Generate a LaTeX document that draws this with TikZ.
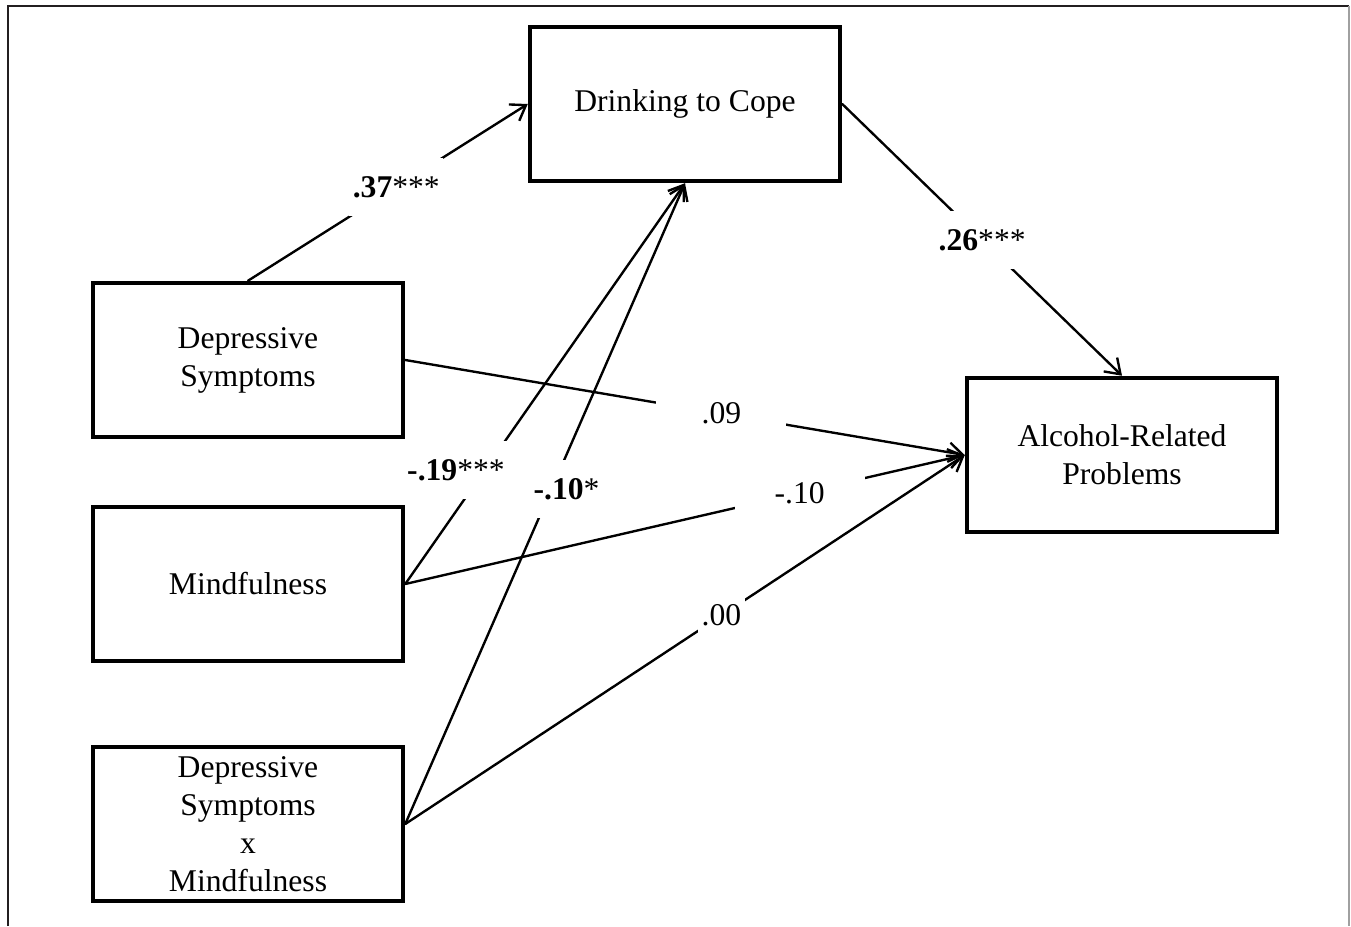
\documentclass[tikz,border=0pt]{standalone}
\usepackage{fontspec}
\setmainfont{Liberation Serif}
\usepackage{xcolor}
\usepackage{tikz}
\usetikzlibrary{arrows.meta}
\definecolor{ink}{HTML}{000000}
\definecolor{rim}{HTML}{231F20}
\definecolor{rimr}{HTML}{A0A0A0}
\tikzset{
  var/.style={draw=ink, line width=2.6pt, minimum width=6.2cm, minimum height=3.08cm,
    align=center, inner sep=0pt, font=\fontsize{18}{21.6}\selectfont},
  eff/.style={draw=ink, line width=1.35pt, line cap=round,
    -{Straight Barb[length=8pt,width=11pt,line width=1.35pt]}},
  coef/.style={fill=white, inner sep=2pt, minimum height=1.16cm,
    font=\fontsize{18}{21.6}\selectfont},
  coefw/.style={coef, minimum width=2.6cm},
}

\begin{document}
\begin{tikzpicture}[x=0.02cm, y=-0.02cm]
  \useasboundingbox (0,0) rectangle (1351,926);
  % outer frame (open at the bottom)
  \draw[rim, line width=1.6pt] (8,926) -- (8,6) -- (1349,6);
  \draw[rimr, line width=0.6pt] (1349,6) -- (1349,926);

  \node[var] (dtc) at (685,104) {Drinking to Cope};
  \node[var] (arp) at (1122,455) {Alcohol-Related\\Problems};
  \node[var] (ds)  at (248,360) {Depressive\\Symptoms};
  \node[var] (mf)  at (248,584) {Mindfulness};
  \node[var] (dsm) at (248,824) {Depressive\\Symptoms\\x\\Mindfulness};

  \draw[eff] (ds.north) -- node[coef, pos=0.53] {\textbf{.37}***} (dtc.west);
  \draw[eff] (dtc.east) -- node[coef, pos=0.5] {\textbf{.26}***} (arp.north);
  \draw[eff] (ds.east) -- node[coefw, pos=0.565] {.09} (arp.west);
  \draw[eff] (mf.east) -- node[coefw, pos=0.705] {-.10} (arp.west);
  \draw[eff] (dsm.east) -- node[coef, pos=0.565] {.00} (arp.west);
  \draw[eff] (mf.east) -- node[coef, pos=0.285, xshift=-0.58cm] {\textbf{-.19}***} (dtc.south);
  \draw[eff] (dsm.east) -- node[coef, pos=0.523, xshift=0.3cm] {\textbf{-.10}*} (dtc.south);
\end{tikzpicture}
\end{document}
